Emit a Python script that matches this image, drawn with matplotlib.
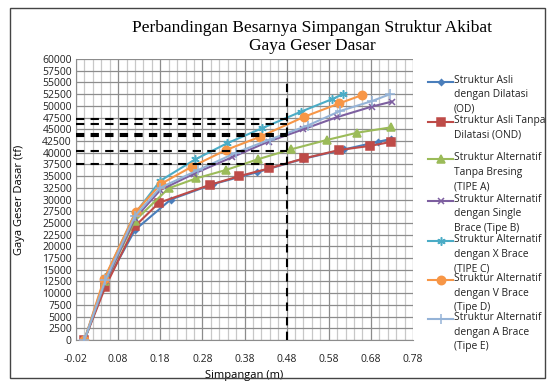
import matplotlib.pyplot as plt
import numpy as np
from matplotlib.lines import Line2D
from matplotlib.patches import Rectangle

# data (simpangan in m, gaya geser in tf)
x_od = [0, 0.05, 0.12, 0.205, 0.306, 0.409, 0.52, 0.617, 0.698, 0.727]
y_od = [0, 12000, 23500, 30000, 33300, 35800, 38700, 40700, 42350, 42900]
x_ond = [0, 0.05, 0.12, 0.177, 0.297, 0.368, 0.439, 0.522, 0.605, 0.677, 0.727]
y_ond = [0, 11400, 24300, 29300, 33100, 35000, 36660, 38800, 40570, 41430, 42280]
x_a = [0, 0.05, 0.12, 0.2, 0.265, 0.336, 0.411, 0.49, 0.575, 0.648, 0.727]
y_a = [0, 12500, 25500, 32400, 34500, 36300, 38570, 40700, 42700, 44270, 45400]
x_b = [0, 0.05, 0.12, 0.18, 0.26, 0.35, 0.437, 0.52, 0.6, 0.682, 0.73]
y_b = [0, 12500, 26000, 32000, 35500, 39000, 42370, 45000, 47600, 49830, 50900]
x_c = [0, 0.05, 0.12, 0.18, 0.263, 0.338, 0.421, 0.514, 0.587, 0.615]
y_c = [0, 13500, 27000, 34000, 38560, 41980, 45190, 48750, 51400, 52530]
x_d = [0, 0.0465, 0.122, 0.181, 0.255, 0.336, 0.417, 0.522, 0.605, 0.659]
y_d = [0, 13020, 27400, 33300, 37000, 40570, 43400, 47670, 50520, 52300]
x_e = [0, 0.05, 0.12, 0.18, 0.27, 0.36, 0.44, 0.53, 0.607, 0.682, 0.726]
y_e = [0, 12800, 26500, 32500, 36300, 40000, 42800, 45800, 48900, 51000, 52500]

labels = ["Struktur Asli\ndengan Dilatasi\n(OD)",
          "Struktur Asli Tanpa\nDilatasi (OND)",
          "Struktur Alternatif\nTanpa Bresing\n(TIPE A)",
          "Struktur Alternatif\ndengan Single\nBrace (Tipe B)",
          "Struktur Alternatif\ndengan X Brace\n(TIPE C)",
          "Struktur Alternatif\ndengan V Brace\n(Tipe D)",
          "Struktur Alternatif\ndengan A Brace\n(Tipe E)"]
colors = ["#4A7EBB", "#BE4B48", "#9BBB59", "#7D5FA0", "#4BACC6", "#F79646", "#95B3D7"]
markers = ["D", "s", "^", "x", (6, 2, 0), "o", "+"]
msizes = [3, 6, 6, 5, 6, 6, 7]

x_target = 0.48
y_levels = [37640, 40356, 43560, 43920, 46060, 47125]

xs = [x_od, x_ond, x_a, x_b, x_c, x_d, x_e]
ys = [y_od, y_ond, y_a, y_b, y_c, y_d, y_e]

font = "Open Sans"
fig = plt.figure(figsize=(5.5, 3.83), dpi=100)
ax = fig.add_axes([76/550, 1-340/383, 337/550, 281/383])

# grid
for v in np.arange(-0.02, 0.781, 0.02):
    major = abs(((v + 0.02) / 0.1) - round((v + 0.02) / 0.1)) < 1e-6
    ax.axvline(v, color="#8c8c8c" if major else "#c8c8c8", lw=0.9, zorder=0)
for h in np.arange(0, 60001, 2500):
    ax.axhline(h, color="#8c8c8c", lw=0.9, zorder=0)

for i in range(len(xs)):
    ax.plot(xs[i], ys[i], color=colors[i], marker=markers[i], ms=msizes[i],
            lw=1.5, mew=1.1, zorder=3)

# dashed reference lines
ax.plot([x_target, x_target], [0, 55000], color="black", ls=(0, (4, 3)), lw=1.5, zorder=4)
for lv in y_levels:
    ax.plot([-0.02, x_target], [lv, lv], color="black", ls=(0, (4, 3)), lw=1.5, zorder=4)

ax.set_xlim(-0.02, 0.78)
ax.set_ylim(0, 60000)
ax.set_xticks(np.arange(-0.02, 0.781, 0.1))
ax.set_xticklabels(["%.2f" % t for t in np.arange(-0.02, 0.781, 0.1)])
ax.set_yticks(np.arange(0, 60001, 2500))
ax.tick_params(length=0, labelsize=7.5, colors="#222222", pad=3)
for lab in ax.get_xticklabels() + ax.get_yticklabels():
    lab.set_fontfamily(font)
ax.tick_params(axis="x", pad=10)
for s in ["top", "right"]:
    ax.spines[s].set_visible(False)
for s in ["left", "bottom"]:
    ax.spines[s].set_color("#8c8c8c")

ax.set_xlabel("Simpangan (m)", fontsize=8, family=font, labelpad=4)
ax.set_ylabel("Gaya Geser Dasar (tf)", fontsize=8, family=font, labelpad=12)

fig.text(0.567, 0.948, "Perbandingan Besarnya Simpangan Struktur Akibat\nGaya Geser Dasar",
         ha="center", va="top", fontsize=12.5, family="Liberation Serif", linespacing=1.15)

# legend drawn to the right like the Excel original
leg_y = [81.7, 121.7, 159.3, 200.7, 241, 280, 319.3]
for i in range(len(labels)):
    yy = 1 - leg_y[i]/383
    fig.add_artist(Line2D([428/550, 453/550], [yy, yy], color=colors[i], lw=1.5,
                          transform=fig.transFigure))
    fig.add_artist(Line2D([440.5/550], [yy], color=colors[i], marker=markers[i],
                          ms=msizes[i], mew=1.1, transform=fig.transFigure))
    fig.text(454/550, yy + 7/383, labels[i], ha="left", va="top", fontsize=7.4,
             family=font, linespacing=1.45, color="#222222")

fig.add_artist(Rectangle((10/550, 5/383), 535/550, 370/383, fill=False,
                         edgecolor="#444444", lw=1.0, transform=fig.transFigure))

fig.savefig("out.png", dpi=100)
